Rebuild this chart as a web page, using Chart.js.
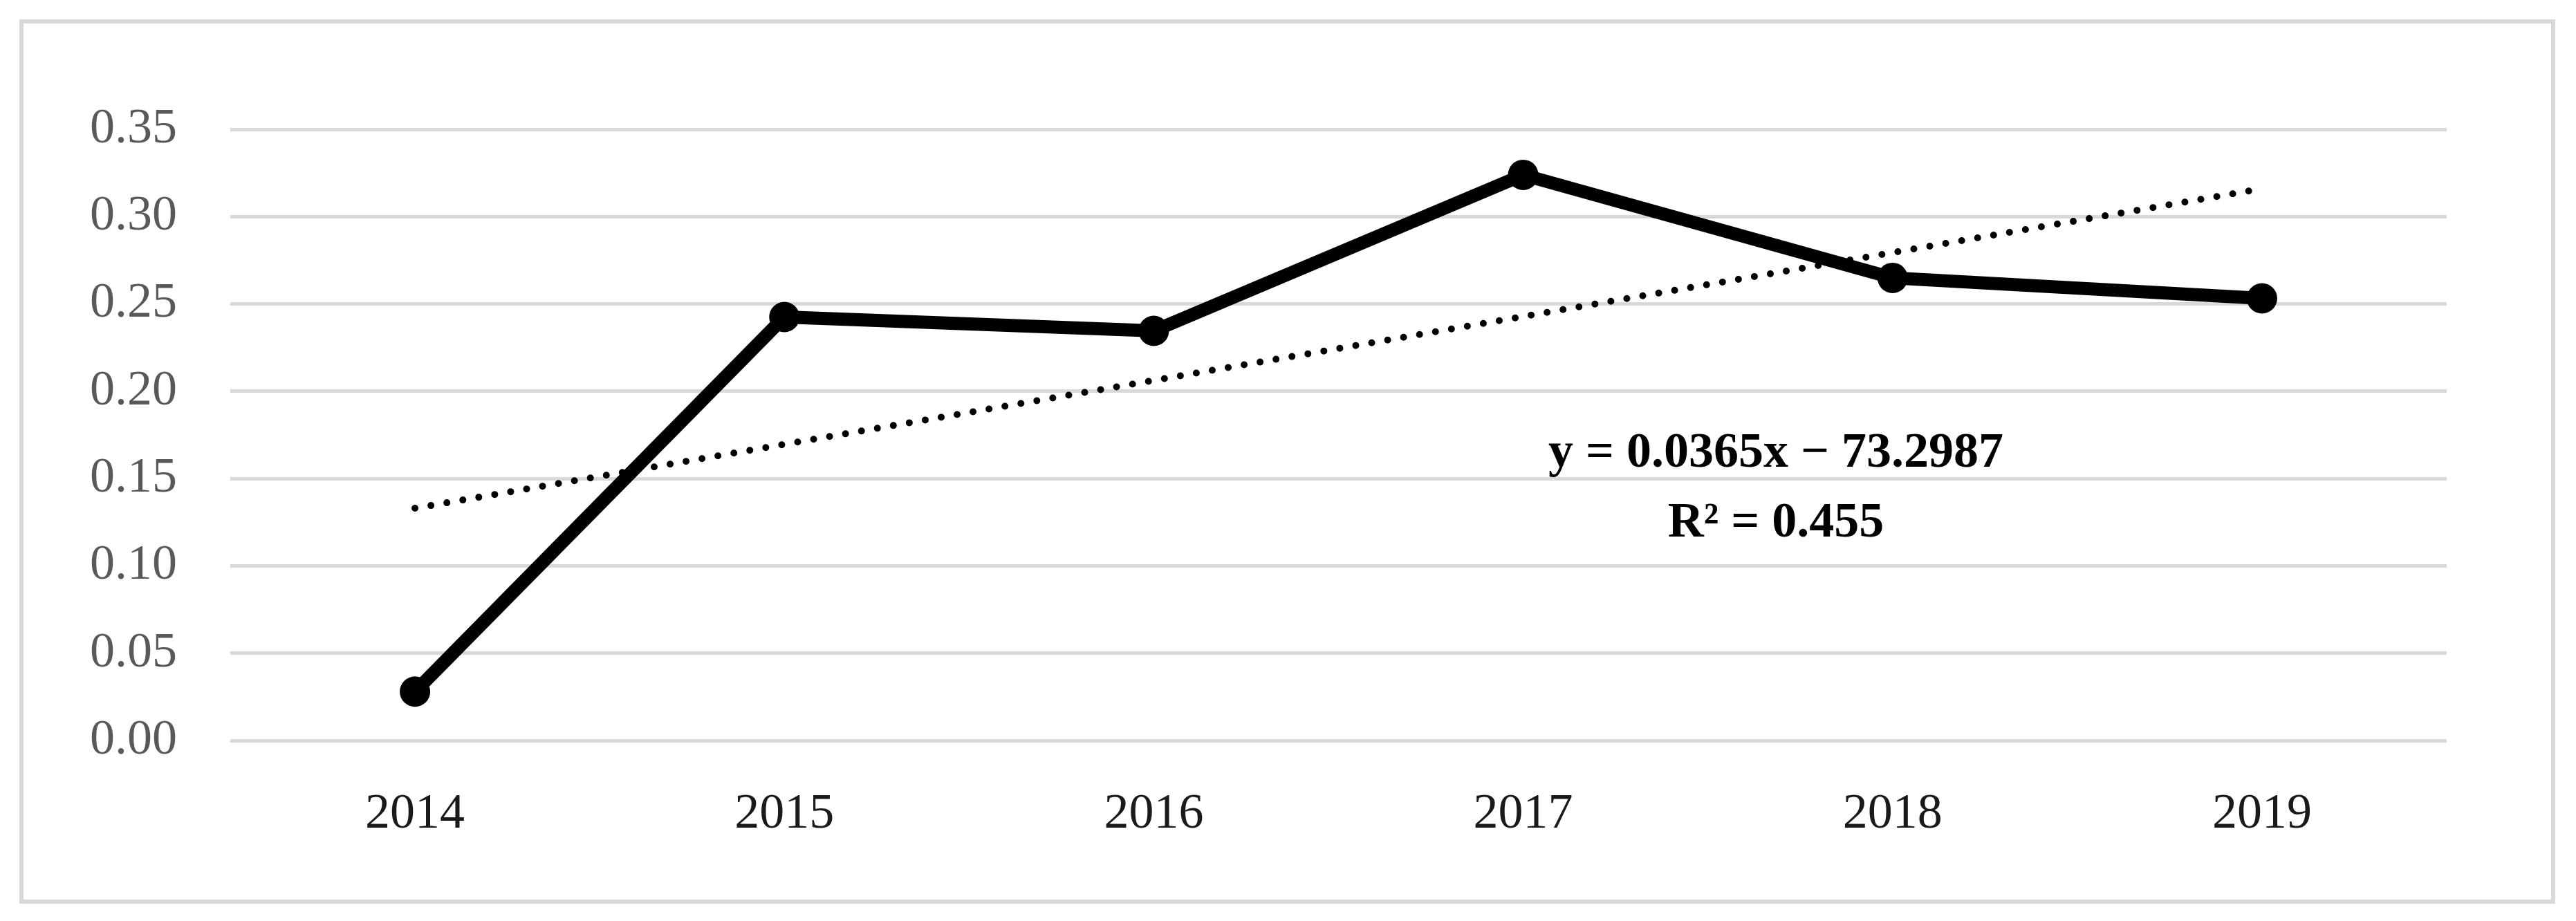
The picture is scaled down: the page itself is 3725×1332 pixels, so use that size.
<!DOCTYPE html>
<html>
<head>
<meta charset="utf-8">
<script src="https://cdn.jsdelivr.net/npm/chart.js@4.4.1/dist/chart.umd.min.js"></script>
<style>
  html, body { margin:0; padding:0; background:#fff; }
  #wrap { position:relative; width:3725px; height:1332px; }
  #frame {
    position:absolute; left:28px; top:28px; width:3667px; height:1279px;
    box-sizing:border-box; border:6px solid #d9d9d9;
  }
  .eq {
    position:absolute; left:2068px; width:1000px; text-align:center;
    font-family:"Liberation Serif", serif; font-weight:bold; font-size:72px;
    line-height:72px; color:#000; white-space:pre;
  }
  canvas { position:absolute; left:0; top:0; }
</style>
</head>
<body>
<div id="wrap">
  <div id="frame"></div>
  <canvas id="grafica" width="3725" height="1332"></canvas>
  <div class="eq" style="top:615px">y = 0.0365x − 73.2987</div>
  <div class="eq" style="top:716px">R² = 0.455</div>
</div>
<script>
const anios = ['2014','2015','2016','2017','2018','2019'];
const valores = [0.028, 0.2425, 0.2346, 0.3239, 0.2649, 0.2532];
// tendencia lineal (solo extremos)
const tendencia = [0.133, null, null, null, null, 0.316];
const ticksY = [0, 0.05, 0.10, 0.15, 0.20, 0.25, 0.30, 0.35];

const fuente = '"Liberation Serif", serif';

new Chart(document.getElementById('grafica'), {
  type: 'line',
  data: {
    labels: anios,
    datasets: [{
      label: 'Valor',
      data: valores,
      borderColor: '#000',
      backgroundColor: '#000',
      borderWidth: 19,
      tension: 0,
      pointRadius: 22,
      pointBorderWidth: 0,
      pointBackgroundColor: '#000'
    }, {
      label: 'Tendencia',
      data: tendencia,
      spanGaps: true,
      borderColor: '#000',
      borderWidth: 10,
      borderDash: [0, 23.4],
      borderCapStyle: 'round',
      pointRadius: 0,
      tension: 0
    }]
  },
  options: {
    responsive: false,
    animation: false,
    devicePixelRatio: 1,
    layout: { padding: { top: 187, right: 187, left: 0, bottom: 0 } },
    plugins: { legend: { display: false }, tooltip: { enabled: false } },
    scales: {
      x: {
        offset: true,
        grid: { display: false, drawTicks: false },
        border: { display: false },
        ticks: {
          color: '#1a1a1a', padding: 64,
          font: { family: fuente, size: 72 }
        },
        afterFit: s => { s.height = 261; }
      },
      y: {
        min: 0, max: 0.35,
        afterBuildTicks: s => { s.ticks = ticksY.map(v => ({ value: v })); },
        grid: { color: '#d9d9d9', lineWidth: 5, drawTicks: false },
        border: { display: false },
        ticks: {
          color: '#595959', padding: 77,
          font: { family: fuente, size: 72 },
          callback: v => Number(v).toFixed(2)
        },
        afterFit: s => { s.width = 333; }
      }
    }
  }
});
</script>
</body>
</html>
